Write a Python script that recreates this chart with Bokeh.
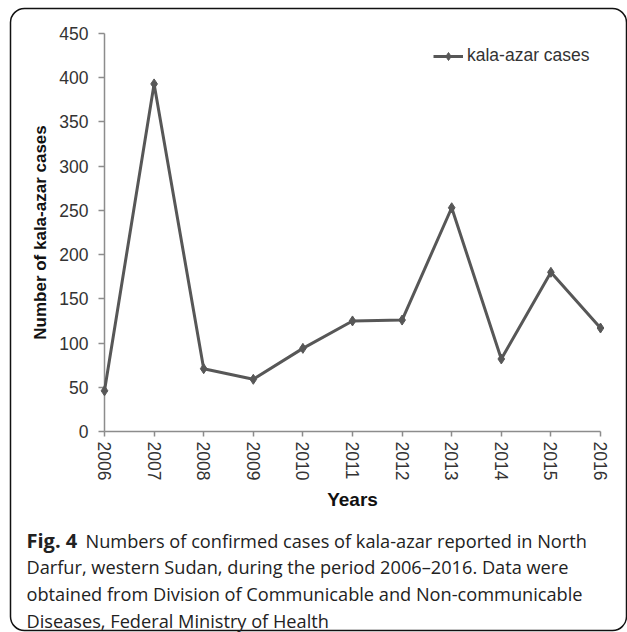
from bokeh.plotting import figure
from bokeh.models import Range1d, FixedTicker, Legend, LegendItem
from bokeh.core.properties import value
from bokeh.embed import file_html
from bokeh.resources import INLINE

years = [2006, 2007, 2008, 2009, 2010, 2011, 2012, 2013, 2014, 2015, 2016]
cases = [46, 393, 71, 59, 94, 125, 126, 253, 82, 180, 117]
y_ticks = [0, 50, 100, 150, 200, 250, 300, 350, 400, 450]
series_name = "kala-azar cases"
x_title = "Years"
y_title = "Number of kala-azar cases"
caption_bold = "Fig. 4"
caption_lines = [
    "Numbers of confirmed cases of kala-azar reported in North",
    "Darfur, western Sudan, during the period 2006\u20132016. Data were",
    "obtained from Division of Communicable and Non-communicable",
    "Diseases, Federal Ministry of Health",
]

W, H = 627, 632
ML, MR, MT, MB = 104, 27, 33, 201
p = figure(width=W, height=H, output_backend="svg", toolbar_location=None,
           x_range=Range1d(years[0], years[-1]), y_range=Range1d(y_ticks[0], y_ticks[-1]),
           min_border_left=ML, min_border_right=MR, min_border_top=MT, min_border_bottom=MB)
p.outline_line_color = None
p.xgrid.grid_line_color = None
p.ygrid.grid_line_color = None
p.background_fill_color = "white"
p.border_fill_color = "white"

# pixel-mapped helper ranges (page pixels, y downward) for the frame box and caption
p.extra_x_ranges = {"px": Range1d(ML, W - MR)}
p.extra_y_ranges = {"px": Range1d(H - MB, MT)}

axis_color = "#8c8c8c"
for ax in (p.xaxis, p.yaxis):
    ax.axis_line_color = axis_color
    ax.axis_line_width = 1.5
    ax.major_tick_line_color = axis_color
    ax.major_tick_line_width = 1.5
    ax.minor_tick_line_color = None
    ax.major_tick_in = 0
    ax.major_label_text_font = "Liberation Sans"
    ax.major_label_text_font_size = "17.5px"
    ax.major_label_text_color = "#333333"
    ax.axis_label_text_font = "Liberation Sans"
    ax.axis_label_text_font_style = "bold"
    ax.axis_label_text_color = "#111111"

p.xaxis.ticker = FixedTicker(ticks=years)
p.xaxis.major_label_overrides = {y: str(y) for y in years}
p.xaxis.major_label_orientation = "vertical"
p.xaxis.major_tick_out = 5
p.xaxis.major_label_standoff = 5
p.xaxis.axis_label = x_title
p.xaxis.axis_label_text_font_size = "19px"
p.xaxis.axis_label_standoff = 6

p.yaxis.ticker = FixedTicker(ticks=y_ticks)
p.yaxis.major_tick_out = 6
p.yaxis.major_label_standoff = 10
p.yaxis.axis_label = y_title
p.yaxis.axis_label_text_font_size = "17px"
p.yaxis.axis_label_standoff = 6

line_color = "#575757"
ln = p.line(years, cases, line_color=line_color, line_width=3, level="annotation")
sc = p.scatter(years, cases, marker="diamond", size=10, fill_color=line_color,
               line_color=line_color, level="annotation")

legend = Legend(items=[LegendItem(label=series_name, renderers=[ln, sc])],
                location=(329, 365), padding=0, margin=0, spacing=0,
                glyph_width=30, glyph_height=20, label_standoff=4,
                label_text_font="Liberation Sans", label_text_font_size="17.5px",
                label_text_color="#333333", border_line_color=None,
                background_fill_alpha=0)
p.add_layout(legend, "center")

# rounded outer box
p.quad(left=[10], right=[626], top=[8], bottom=[630],
       x_range_name="px", y_range_name="px",
       fill_color=None, line_color="#111111", line_width=1.5,
       border_radius=14, level="overlay")

# caption (anchored inside the frame, shifted by pixel offsets)
AX, AY = 300, 300
cap_font = value("Open Sans")
cap_color = "#222222"
cap_y = [540, 566.7, 593.3, 620]
cap_x = [85, 26, 26, 26]
p.text(x=[AX], y=[AY], text=[caption_bold], x_offset=26 - AX, y_offset=cap_y[0] - AY,
       x_range_name="px", y_range_name="px",
       text_font=cap_font, text_font_style="bold", text_font_size="20px",
       text_color=cap_color, text_baseline="alphabetic", text_align="left",
       level="overlay")
p.text(x=[AX] * 4, y=[AY] * 4, text=caption_lines,
       x_offset=[xx - AX for xx in cap_x], y_offset=[yy - AY for yy in cap_y],
       x_range_name="px", y_range_name="px",
       text_font=cap_font, text_font_size="18.2px",
       text_color=cap_color, text_baseline="alphabetic", text_align="left",
       level="overlay")

open("out.html", "w").write(file_html(p, INLINE))
